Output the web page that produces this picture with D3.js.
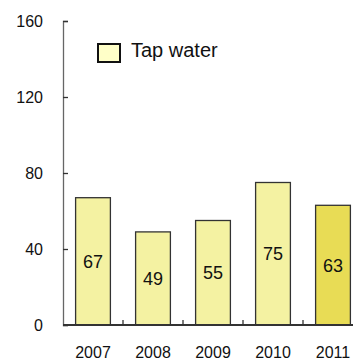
<!DOCTYPE html>
<html>
<head>
<meta charset="utf-8">
<script src="https://cdn.jsdelivr.net/npm/d3@7/dist/d3.min.js"></script>
<style>
  html, body { margin: 0; padding: 0; background: #fff; }
  svg { display: block; font-family: "Liberation Sans", Arial, sans-serif; }
</style>
</head>
<body>
<svg id="chart" width="353" height="361"></svg>
<script>
// Annual values for tap water
const years = ["2007", "2008", "2009", "2010", "2011"];
const tapWater = [67, 49, 55, 75, 63];
const yTicks = [0, 40, 80, 120, 160];
const seriesName = "Tap water";

const svg = d3.select("#chart");

const x = d3.scaleBand().domain(years).range([63, 363]).paddingInner(0.42).paddingOuter(0.21);
const y = d3.scaleLinear().domain([0, 160]).range([325, 21]);

// Bars
svg.append("g").selectAll("rect")
  .data(years)
  .join("rect")
  .attr("x", d => x(d))
  .attr("y", (d, i) => y(tapWater[i]))
  .attr("width", x.bandwidth())
  .attr("height", (d, i) => y(0) - y(tapWater[i]))
  .attr("fill", (d, i) => i === years.length - 1 ? "#e8dc55" : "#f4f2a2")
  .attr("stroke", "#333")
  .attr("stroke-width", 1.3);

// Value labels in the middle of each bar
svg.append("g").selectAll("text")
  .data(years)
  .join("text")
  .attr("x", d => x(d) + x.bandwidth() / 2)
  .attr("y", (d, i) => (y(tapWater[i]) + y(0)) / 2)
  .attr("dy", "0.36em")
  .attr("text-anchor", "middle")
  .attr("font-size", 18)
  .attr("fill", "#111")
  .text((d, i) => tapWater[i]);

// Y axis, ticks pointing inward
const yAxis = svg.append("g")
  .attr("transform", "translate(63,0)")
  .call(d3.axisRight(y).tickValues(yTicks).tickSize(5).tickFormat(d3.format("d")));
yAxis.select(".domain").attr("stroke", "#666").attr("stroke-width", 1.3);
yAxis.selectAll(".tick line").attr("stroke", "#333").attr("stroke-width", 1.3);
yAxis.selectAll(".tick text")
  .attr("x", -20)
  .attr("dy", "0.36em")
  .attr("text-anchor", "end")
  .attr("font-size", 16)
  .attr("fill", "#111")
  .attr("font-family", "Liberation Sans, Arial, sans-serif");

// X axis with boundary ticks pointing up
const xAxis = svg.append("g").attr("transform", "translate(0,325)");
xAxis.append("line")
  .attr("x1", 63).attr("x2", 353)
  .attr("stroke", "#333").attr("stroke-width", 2);
xAxis.selectAll("line.bound")
  .data(years.slice(1))
  .join("line")
  .attr("class", "bound")
  .attr("x1", d => x(d) - x.step() * x.paddingInner() / 2)
  .attr("x2", d => x(d) - x.step() * x.paddingInner() / 2)
  .attr("y1", 0).attr("y2", -5)
  .attr("stroke", "#333").attr("stroke-width", 1.3);
xAxis.selectAll("text")
  .data(years)
  .join("text")
  .attr("x", d => x(d) + x.bandwidth() / 2)
  .attr("y", 33)
  .attr("text-anchor", "middle")
  .attr("font-size", 16)
  .attr("fill", "#111")
  .text(d => d);

// Legend
const legend = svg.append("g").attr("transform", "translate(98,44)");
legend.append("rect")
  .attr("width", 22).attr("height", 18)
  .attr("fill", "#ffffc8")
  .attr("stroke", "#111")
  .attr("stroke-width", 2);
legend.append("text")
  .attr("x", 33).attr("y", 13)
  .attr("font-size", 20)
  .attr("fill", "#111")
  .text(seriesName);
</script>
</body>
</html>
